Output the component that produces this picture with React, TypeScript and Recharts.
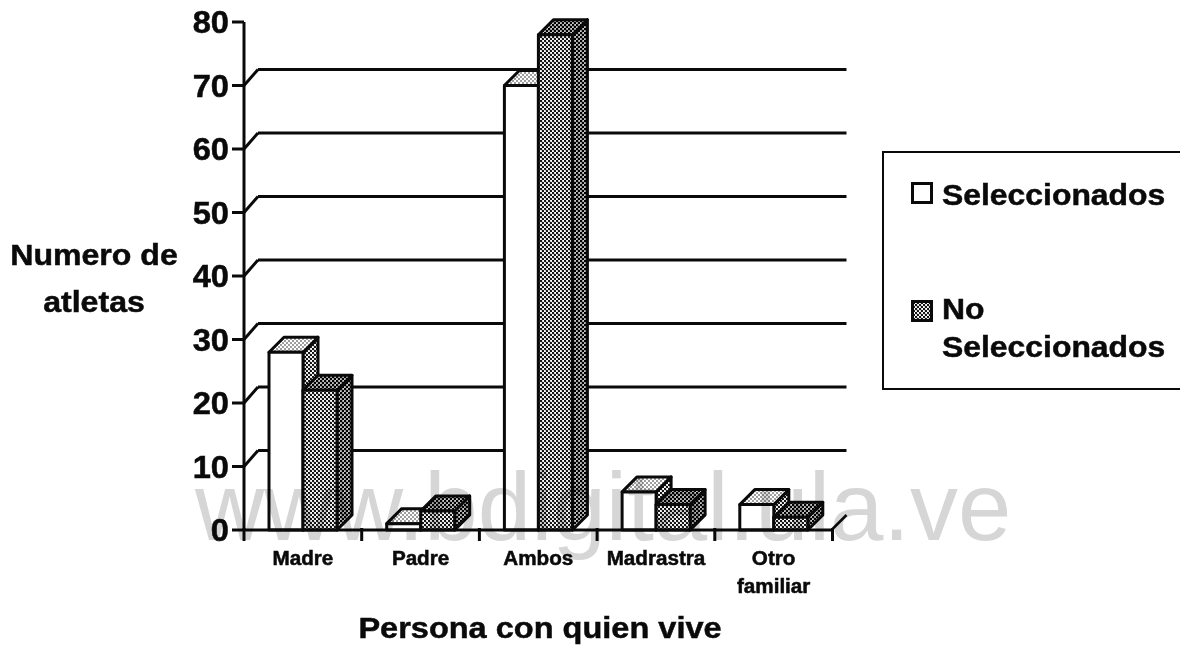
import React from 'react';
import { BarChart, Bar, XAxis, YAxis, CartesianGrid, Legend } from 'recharts';

const categories = ['Madre', 'Padre', 'Ambos', 'Madrastra', 'Otro familiar'];
const seleccionados = [28, 1, 70, 6, 4];
const noSeleccionados = [22, 3, 78, 4, 2];
const yTicks = [0, 10, 20, 30, 40, 50, 60, 70, 80];
const gridValues = [10, 20, 30, 40, 50, 60, 70];

const data = categories.map((name, i) => ({
  name,
  seleccionados: seleccionados[i],
  noSeleccionados: noSeleccionados[i],
}));

const FONT = '"Liberation Sans", Arial, sans-serif';
const STRETCH = 1.07;
const DEPTH = 15;
const WALL = 16;
const PLOT_LEFT = 244;
const BAND = 117.7;
const INK = '#0a0a0a';

const T = ({ x, y, size, children, anchor = 'middle' }: any) => (
  <text
    transform={`translate(${x} ${y}) scale(${STRETCH} 1)`}
    textAnchor={anchor}
    fontFamily={FONT}
    fontWeight={700}
    fontSize={size}
    fill={INK}
    stroke={INK}
    strokeWidth={0.5}
  >
    {children}
  </text>
);

const Box3D = ({ x, y, width, height, front, side, top }: any) => {
  if (!(height > 0)) return null;
  const common = { stroke: INK, strokeWidth: 3, strokeLinejoin: 'round' as const };
  return (
    <g>
      <polygon
        points={`${x + width},${y} ${x + width + DEPTH},${y - DEPTH} ${x + width + DEPTH},${y + height - DEPTH} ${x + width},${y + height}`}
        fill={side}
        {...common}
      />
      <polygon
        points={`${x},${y} ${x + DEPTH},${y - DEPTH} ${x + width + DEPTH},${y - DEPTH} ${x + width},${y}`}
        fill={top}
        {...common}
      />
      <rect x={x} y={y} width={width} height={height} fill={front} {...common} />
    </g>
  );
};

const WhiteBar = (p: any) => <Box3D {...p} front="#ffffff" side="url(#dotMid)" top="url(#dotLight)" />;
const DarkBar = (p: any) => <Box3D {...p} front="url(#dotMid)" side="url(#dotDark)" top="url(#dotDark)" />;

const YTick = ({ y, payload }: any) => (
  <g>
    <line x1={PLOT_LEFT - 12} x2={PLOT_LEFT} y1={y} y2={y} stroke={INK} strokeWidth={3} />
    {payload.value > 0 && payload.value < 80 && (
      <line x1={PLOT_LEFT} x2={PLOT_LEFT + WALL - 2} y1={y} y2={y - WALL} stroke={INK} strokeWidth={3} />
    )}
    <T x={PLOT_LEFT - 15} y={y + 11} size={30.5} anchor="end">
      {payload.value}
    </T>
  </g>
);

const XTick = ({ x, y, payload, index }: any) => {
  const words = String(payload.value).split(' ');
  const last = index === categories.length - 1;
  return (
    <g>
      {index === 0 && (
        <line x1={x - BAND / 2} x2={x - BAND / 2} y1={y - 2} y2={y + 11} stroke={INK} strokeWidth={3} />
      )}
      <line x1={x + BAND / 2} x2={x + BAND / 2} y1={y - 2} y2={y + 11} stroke={INK} strokeWidth={3} />
      {last && (
        <line x1={x + BAND / 2} x2={x + BAND / 2 + WALL - 2} y1={y - 1} y2={y - 1 - WALL + 2} stroke={INK} strokeWidth={2.5} />
      )}
      {words.map((w, i) => (
        <T key={w} x={x} y={y + 35 + i * 28} size={19.3}>
          {w}
        </T>
      ))}
    </g>
  );
};

const GridLine = ({ y1, x1, x2 }: any) => (
  <line x1={x1 + WALL - 2} x2={x2 + WALL - 2} y1={y1 - WALL} y2={y1 - WALL} stroke={INK} strokeWidth={3} />
);

const YTitle = () => (
  <g>
    <T x={94} y={265} size={30}>Numero de</T>
    <T x={94} y={312} size={30}>atletas</T>
  </g>
);

const XTitle = () => <T x={540} y={638} size={30.4}>Persona con quien vive</T>;

const legendText: React.CSSProperties = {
  position: 'absolute',
  left: 58,
  fontFamily: FONT,
  fontWeight: 700,
  fontSize: 29.8,
  lineHeight: '36px',
  color: INK,
  WebkitTextStroke: `0.5px ${INK}`,
  transform: `scaleX(${STRETCH})`,
  transformOrigin: 'left center',
  whiteSpace: 'nowrap',
};

const swatch = (top: number, dark: boolean) => (
  <svg style={{ position: 'absolute', left: 27, top }} width={22} height={22}>
    <rect x={1.5} y={1.5} width={19} height={19} fill={dark ? 'url(#dotMid)' : '#fff'} stroke={INK} strokeWidth={3} />
  </svg>
);

const LegendBox = () => (
  <div
    style={{
      position: 'relative',
      width: 300,
      height: 239,
      borderLeft: `2.5px solid ${INK}`,
      borderTop: `2.5px solid ${INK}`,
      borderBottom: `2.5px solid ${INK}`,
      background: '#fff',
      boxSizing: 'border-box',
    }}
  >
    {swatch(29, false)}
    <div style={{ ...legendText, top: 24 }}>Seleccionados</div>
    {swatch(147, true)}
    <div style={{ ...legendText, top: 138 }}>No</div>
    <div style={{ ...legendText, top: 176 }}>Seleccionados</div>
  </div>
);

export default function App() {
  return (
    <div style={{ position: 'absolute', left: 0, top: 0, width: 1180, height: 645, overflow: 'hidden', background: '#fff' }}>
      <BarChart
        width={1180}
        height={645}
        data={data}
        barSize={34}
        barGap={0}
        margin={{ top: 22, right: 347.5, bottom: 85, left: 0 }}
      >
        <defs>
          <pattern id="dotLight" width="4" height="4" patternUnits="userSpaceOnUse">
            <rect width="4" height="4" fill="#fff" />
            <circle cx="1" cy="1" r="0.8" fill="#222" />
            <circle cx="3" cy="3" r="0.8" fill="#222" />
          </pattern>
          <pattern id="dotMid" width="4" height="4" patternUnits="userSpaceOnUse">
            <rect width="4" height="4" fill="#fff" />
            <circle cx="1" cy="1" r="1.25" fill="#111" />
            <circle cx="3" cy="3" r="1.25" fill="#111" />
          </pattern>
          <pattern id="dotDark" width="4" height="4" patternUnits="userSpaceOnUse">
            <rect width="4" height="4" fill="#ccc" />
            <circle cx="1" cy="1" r="1.35" fill="#000" />
            <circle cx="3" cy="3" r="1.35" fill="#000" />
          </pattern>
        </defs>
        <CartesianGrid vertical={false} horizontalValues={gridValues} horizontal={(p: any) => <GridLine key={p.key} {...p} />} />
        <XAxis
          dataKey="name"
          interval={0}
          height={30}
          axisLine={{ stroke: INK, strokeWidth: 3 }}
          tickLine={false}
          tick={<XTick />}
          tickMargin={0}
          tickSize={0}
          label={<XTitle />}
        />
        <YAxis
          width={PLOT_LEFT}
          domain={[0, 80]}
          ticks={yTicks}
          interval={0}
          axisLine={{ stroke: INK, strokeWidth: 3 }}
          tickLine={false}
          tick={<YTick />}
          label={<YTitle />}
        />
        <Legend
          content={<LegendBox />}
          wrapperStyle={{ position: 'absolute', left: 882, top: 151, width: 0, height: 0, overflow: 'visible' }}
        />
        <Bar dataKey="seleccionados" name="Seleccionados" isAnimationActive={false} shape={<WhiteBar />} />
        <Bar dataKey="noSeleccionados" name="No Seleccionados" isAnimationActive={false} shape={<DarkBar />} />
      </BarChart>
      <div
        style={{
          position: 'absolute',
          left: 195,
          top: 459,
          fontFamily: FONT,
          fontSize: 96,
          lineHeight: '95px',
          color: '#d6d6d6',
          mixBlendMode: 'multiply',
          whiteSpace: 'nowrap',
          pointerEvents: 'none',
        }}
      >
        www.bdigital.ula.ve
      </div>
    </div>
  );
}
